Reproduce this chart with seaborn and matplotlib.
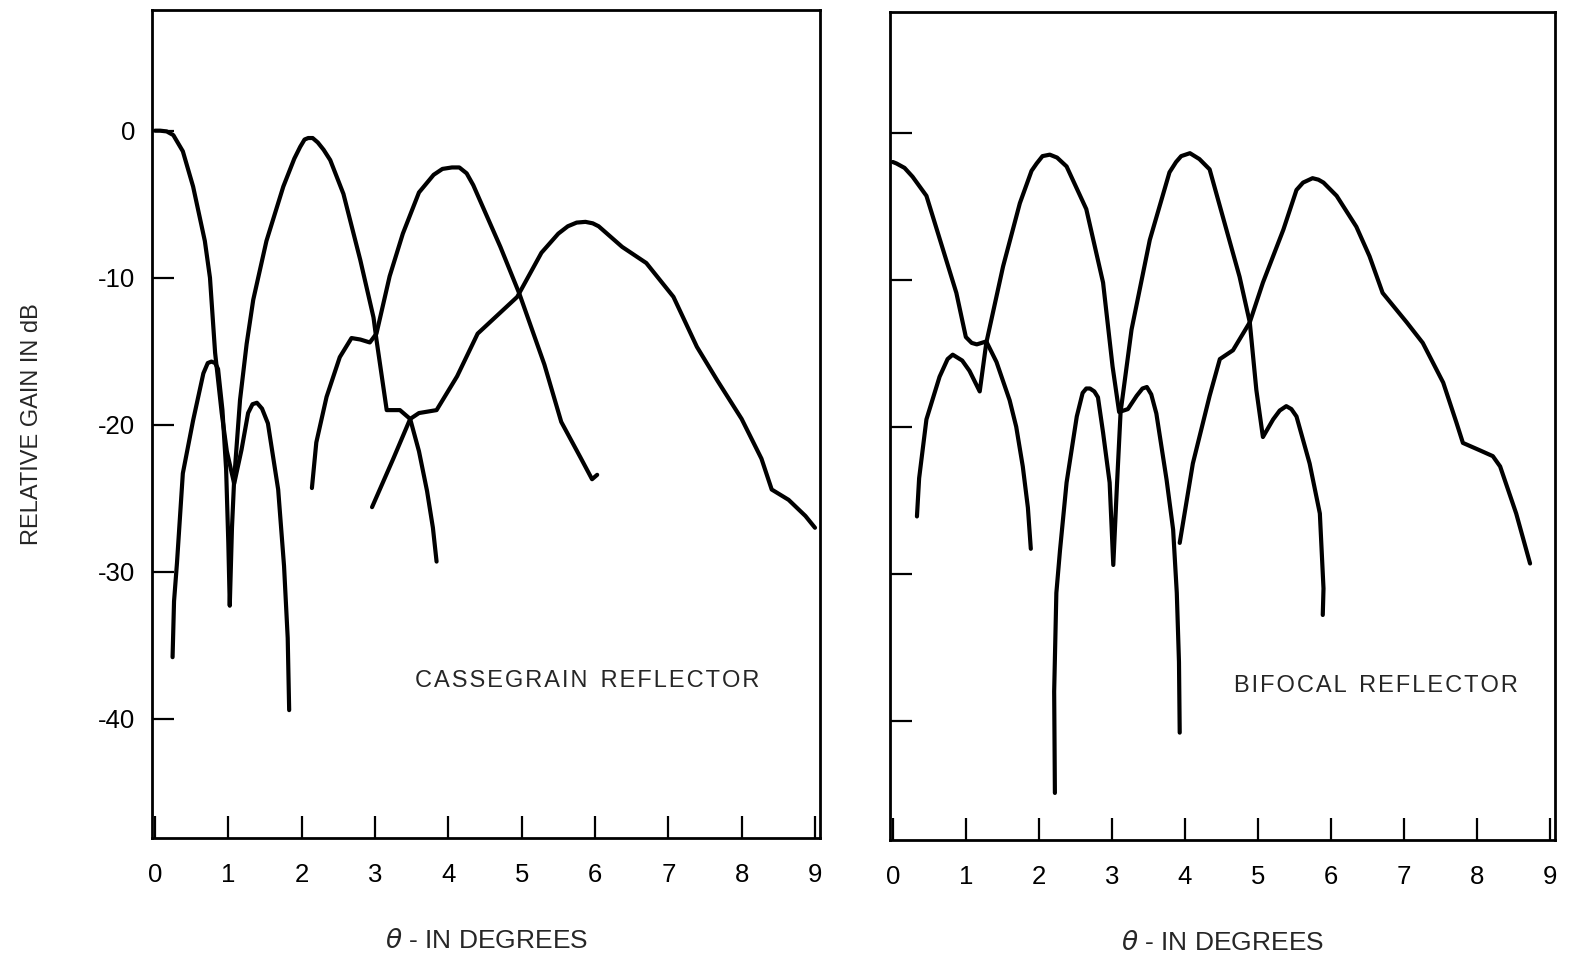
import numpy as np
import pandas as pd
import matplotlib
matplotlib.use("Agg")
import matplotlib.pyplot as plt
import seaborn as sns

# digitised beam patterns (theta in degrees, relative gain in dB)
cass_b0_theta = [0.0, 0.07, 0.16, 0.25, 0.38, 0.52, 0.68, 0.75, 0.82, 0.91, 0.98, 1.08, 1.18, 1.27, 1.33, 1.39, 1.46, 1.54, 1.68, 1.76, 1.81, 1.83]
cass_b0_gain = [0.0, 0.0, -0.05, -0.3, -1.4, -3.8, -7.5, -10.0, -15.1, -19.2, -21.8, -24.0, -21.7, -19.2, -18.6, -18.5, -18.9, -19.9, -24.4, -29.6, -34.5, -39.4]

cass_b1_theta = [0.24, 0.26, 0.30, 0.38, 0.52, 0.66, 0.72, 0.77, 0.82, 0.86, 0.92, 0.97, 1.00, 1.02, 1.05, 1.08, 1.12, 1.16, 1.25, 1.34, 1.52, 1.75, 1.90, 1.98, 2.04, 2.09, 2.15, 2.22, 2.30, 2.39, 2.57, 2.80, 2.98, 3.02, 3.16, 3.34, 3.48, 3.60, 3.71, 3.79, 3.84]
cass_b1_gain = [-35.8, -32.0, -29.4, -23.3, -19.7, -16.5, -15.8, -15.7, -15.8, -16.2, -19.0, -23.0, -28.0, -32.3, -27.0, -23.7, -21.0, -18.3, -14.5, -11.5, -7.5, -3.8, -1.9, -1.1, -0.6, -0.5, -0.5, -0.8, -1.3, -2.0, -4.3, -8.8, -12.7, -14.2, -19.0, -19.0, -19.6, -21.8, -24.5, -27.0, -29.3]

cass_b2_theta = [2.14, 2.20, 2.34, 2.52, 2.68, 2.80, 2.93, 3.02, 3.20, 3.38, 3.60, 3.80, 3.92, 4.05, 4.15, 4.25, 4.34, 4.71, 4.97, 5.31, 5.54, 5.80, 5.96, 6.03]
cass_b2_gain = [-24.3, -21.2, -18.1, -15.4, -14.1, -14.2, -14.4, -13.8, -9.9, -7.0, -4.2, -3.0, -2.6, -2.5, -2.5, -2.9, -3.7, -7.9, -11.1, -15.9, -19.8, -22.2, -23.7, -23.4]

cass_b3_theta = [2.96, 3.25, 3.48, 3.60, 3.84, 4.12, 4.40, 4.94, 5.27, 5.50, 5.63, 5.75, 5.87, 5.97, 6.05, 6.37, 6.70, 7.07, 7.39, 7.67, 8.00, 8.27, 8.41, 8.64, 8.87, 9.00]
cass_b3_gain = [-25.6, -22.3, -19.6, -19.2, -19.0, -16.7, -13.8, -11.3, -8.3, -7.0, -6.5, -6.25, -6.2, -6.3, -6.5, -7.9, -9.0, -11.3, -14.7, -17.0, -19.6, -22.3, -24.4, -25.1, -26.2, -27.0]

bif_b0_theta = [0.0, 0.05, 0.16, 0.27, 0.46, 0.69, 0.87, 1.00, 1.08, 1.15, 1.28, 1.42, 1.60, 1.69, 1.78, 1.85, 1.89]
bif_b0_gain = [-2.0, -2.1, -2.4, -3.0, -4.3, -8.0, -10.9, -13.9, -14.3, -14.4, -14.2, -15.6, -18.2, -20.0, -22.7, -25.5, -28.3]

bif_b1_theta = [0.33, 0.36, 0.46, 0.64, 0.75, 0.82, 0.95, 1.05, 1.19, 1.28, 1.51, 1.74, 1.90, 1.97, 2.05, 2.15, 2.25, 2.38, 2.65, 2.88, 3.01, 3.10, 3.22, 3.34, 3.42, 3.48, 3.54, 3.61, 3.75, 3.84, 3.89, 3.92, 3.93]
bif_b1_gain = [-26.1, -23.5, -19.5, -16.6, -15.4, -15.1, -15.5, -16.2, -17.6, -14.3, -9.1, -4.8, -2.6, -2.1, -1.6, -1.5, -1.7, -2.3, -5.2, -10.2, -15.9, -19.0, -18.8, -17.9, -17.4, -17.3, -17.8, -19.1, -23.6, -27.0, -31.3, -36.0, -40.8]

bif_b2_theta = [2.22, 2.21, 2.24, 2.29, 2.38, 2.52, 2.60, 2.65, 2.70, 2.76, 2.81, 2.88, 2.97, 3.02, 3.07, 3.12, 3.27, 3.52, 3.79, 3.88, 3.95, 4.07, 4.20, 4.34, 4.57, 4.75, 4.89, 4.98, 5.07, 5.21, 5.30, 5.39, 5.46, 5.53, 5.71, 5.85, 5.90, 5.89]
bif_b2_gain = [-44.9, -38.0, -31.3, -28.4, -23.8, -19.3, -17.7, -17.4, -17.4, -17.6, -18.0, -20.4, -23.8, -29.4, -24.0, -19.0, -13.4, -7.3, -2.7, -2.0, -1.6, -1.4, -1.8, -2.5, -6.6, -9.8, -12.9, -17.5, -20.7, -19.5, -18.9, -18.6, -18.8, -19.3, -22.5, -25.9, -31.0, -32.8]

bif_b3_theta = [3.93, 4.11, 4.34, 4.48, 4.66, 4.89, 5.07, 5.35, 5.53, 5.62, 5.75, 5.83, 5.90, 6.08, 6.35, 6.53, 6.71, 7.04, 7.26, 7.54, 7.72, 7.81, 8.04, 8.22, 8.32, 8.54, 8.73]
bif_b3_gain = [-27.9, -22.5, -17.9, -15.4, -14.8, -12.9, -10.2, -6.6, -3.9, -3.4, -3.1, -3.2, -3.4, -4.3, -6.4, -8.4, -10.9, -12.9, -14.3, -17.0, -19.7, -21.1, -21.6, -22.0, -22.7, -25.9, -29.3]

y_ticks = [0, -10, -20, -30, -40]
x_ticks = [0, 1, 2, 3, 4, 5, 6, 7, 8, 9]

def beams_frame(beams):
    frames = []
    for i, (t, g) in enumerate(beams):
        frames.append(pd.DataFrame({"theta": t, "gain": g, "beam": i}))
    return pd.concat(frames, ignore_index=True)

cass = beams_frame([(cass_b0_theta, cass_b0_gain), (cass_b1_theta, cass_b1_gain),
                    (cass_b2_theta, cass_b2_gain), (cass_b3_theta, cass_b3_gain)])
bif = beams_frame([(bif_b0_theta, bif_b0_gain), (bif_b1_theta, bif_b1_gain),
                   (bif_b2_theta, bif_b2_gain), (bif_b3_theta, bif_b3_gain)])

sns.set_style("white")
plt.rcParams["font.family"] = ["Liberation Sans", "DejaVu Sans"]
plt.rcParams["axes.unicode_minus"] = False

fig = plt.figure(figsize=(15.69, 9.6), dpi=100)
ax1 = fig.add_axes([0.0969, 0.127, 0.4258, 0.8625])
ax2 = fig.add_axes([0.5672, 0.125, 0.4238, 0.8625])

hs = "\u200a"
panels = [(ax1, cass, hs.join("CASSEGRAIN") + "  " + hs.join("REFLECTOR"), 5.9, -37.4),
          (ax2, bif, hs.join("BIFOCAL") + "  " + hs.join("REFLECTOR"), 6.62, -37.6)]

for ax, df, label, lx, ly in panels:
    sns.lineplot(data=df, x="theta", y="gain", units="beam", estimator=None,
                 sort=False, color="black", linewidth=3.0, ax=ax)
    for ln in ax.lines:
        ln.set_solid_joinstyle("round")
        ln.set_solid_capstyle("round")
    ax.set_xlim(-0.04, 9.07)
    ax.set_ylim(-48.1, 8.2)
    ax.set_xticks(x_ticks)
    ax.set_yticks(y_ticks)
    ax.tick_params(direction="in", length=16, width=1.6, colors="black",
                   bottom=True, left=True, labelsize=18.5)
    ax.tick_params(axis="x", pad=18)
    ax.tick_params(axis="y", pad=12)
    for s in ax.spines.values():
        s.set_color("black")
        s.set_linewidth(2.0)
    ax.set_xlabel(r"$\theta$ - IN DEGREES", fontsize=19, labelpad=30)
    ax.set_ylabel("")
    ax.text(lx, ly, label, fontsize=17, ha="center", va="center")

ax1.set_ylabel("RELATIVE GAIN IN dB", fontsize=17, labelpad=40)
ax2.set_yticklabels([])

fig.savefig("out.png", dpi=100)
